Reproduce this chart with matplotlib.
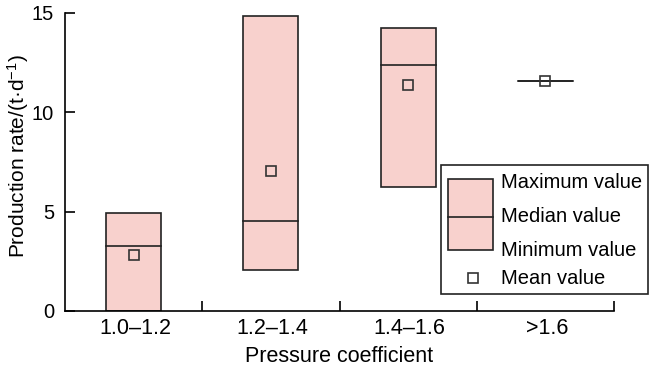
import matplotlib.pyplot as plt
from matplotlib.patches import Rectangle
from matplotlib.lines import Line2D

plt.rcParams['font.family'] = ['Liberation Sans', 'DejaVu Sans']
plt.rcParams['mathtext.default'] = 'regular'

categories = ['1.0\u20131.2', '1.2\u20131.4', '1.4\u20131.6', '>1.6']
max_vals = [4.93, 14.85, 14.24, 11.57]
median_vals = [3.27, 4.53, 12.38, 11.57]
min_vals = [0.0, 2.06, 6.24, 11.57]
mean_vals = [2.82, 7.05, 11.37, 11.57]

fill = '#f8d1cd'
edge = '#222222'
w = 0.4

fig = plt.figure(figsize=(6.5, 3.75), dpi=100)
ax = fig.add_axes([65/650, 1-311/375, 549/650, 298/375])

for i in range(len(categories)):
    x0 = i + 0.5 - w/2
    ax.add_patch(Rectangle((x0, min_vals[i]), w, max_vals[i]-min_vals[i],
                           facecolor=fill, edgecolor=edge, lw=1.2, zorder=2))
    ax.plot([x0, x0+w], [median_vals[i]]*2, color=edge, lw=1.2, zorder=3)
    ax.plot(i+0.5, mean_vals[i], 's', ms=7.5, mfc='none', mec='#333333', mew=1.2, zorder=4)

ax.set_xlim(0, 4)
ax.set_ylim(0, 15)
ax.set_yticks([0, 5, 10, 15])
ax.set_xticks([1, 2, 3, 4])
ax.set_xticklabels([])
ax.set_xticks([0.51, 1.51, 2.51, 3.51], minor=True)
ax.set_xticklabels(categories, minor=True)
ax.tick_params(axis='x', which='minor', length=0, pad=5, labelsize=15.5)
ax.tick_params(axis='x', which='major', direction='in', length=7, width=1.2)
ax.tick_params(axis='y', direction='in', length=7, width=1.2, labelsize=14.5, pad=8)
for s in ['top', 'right']:
    ax.spines[s].set_visible(False)
for s in ['left', 'bottom']:
    ax.spines[s].set_linewidth(1.2)
ax.set_xlabel('Pressure coefficient', fontsize=15.5, labelpad=5)
ax.set_ylabel('Production rate/(t\u00b7d$^{-1}$)', fontsize=15)
ax.yaxis.set_label_coords(-0.062, 0.52)

# legend drawn by hand in figure pixels
def fx(px):
    return px/650
def fy(py):
    return 1 - py/375

fig.add_artist(Rectangle((fx(441), fy(294)), fx(648)-fx(441), fy(165)-fy(294),
                         transform=fig.transFigure, facecolor='white', edgecolor=edge, lw=1.2))
fig.add_artist(Rectangle((fx(448), fy(250)), fx(493)-fx(448), fy(179)-fy(250),
                         transform=fig.transFigure, facecolor=fill, edgecolor=edge, lw=1.2))
fig.add_artist(Line2D([fx(448), fx(493)], [fy(217), fy(217)], transform=fig.transFigure,
                      color=edge, lw=1.2))
fig.add_artist(Line2D([fx(473)], [fy(278)], transform=fig.transFigure, marker='s', ms=7.5,
                      mfc='none', mec='#333333', mew=1.2, ls='none'))
for label, py in [('Maximum value', 183), ('Median value', 217),
                  ('Minimum value', 250), ('Mean value', 278)]:
    fig.text(fx(501), fy(py), label, fontsize=14.5, va='center', ha='left')

fig.savefig('out.png', dpi=100)
